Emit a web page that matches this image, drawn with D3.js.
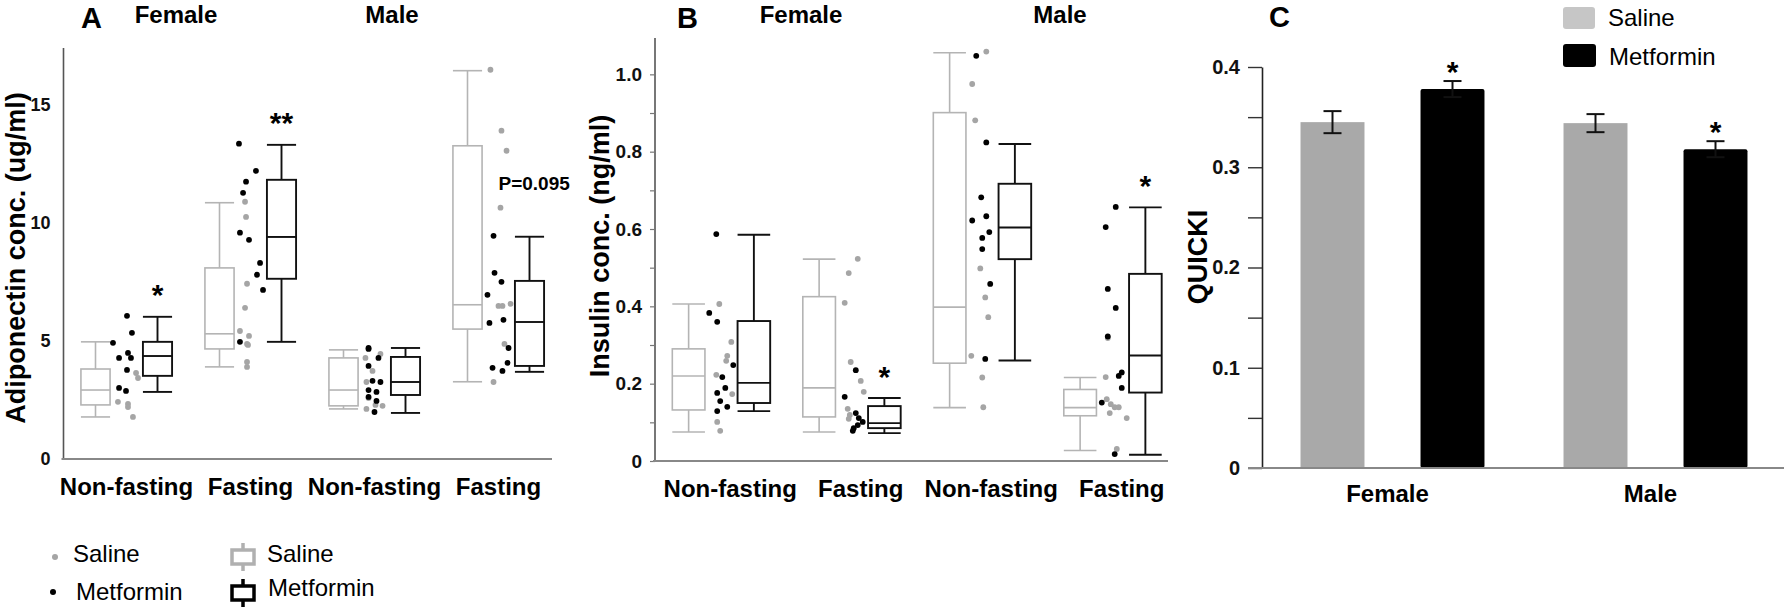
<!DOCTYPE html>
<html><head><meta charset="utf-8">
<script src="https://cdn.jsdelivr.net/npm/d3@7"></script>
<style>
body{margin:0;background:#fff;}
svg{display:block;font-family:"Liberation Sans",Arial,Helvetica,sans-serif;}
</style></head><body>
<svg id="chart" width="1784" height="608"></svg>
<script>
// ---------------- DATA ----------------
const sexes = ["Female", "Male"];
const conditions = ["Non-fasting", "Fasting", "Non-fasting", "Fasting"];
const treatments = ["Saline", "Metformin"];

// Panel A: adiponectin (ug/ml). Box stats: [low whisker, Q1, median, Q3, high whisker]
const adipoSalineBox = [[1.78,2.29,2.92,3.81,4.96],[3.90,4.66,5.30,8.09,10.85],[2.12,2.25,2.92,4.28,4.62],[3.27,5.50,6.53,13.26,16.44]];
const adipoMetforminBox = [[2.84,3.52,4.36,4.96,6.02],[4.96,7.63,9.40,11.82,13.30],[1.95,2.71,3.26,4.32,4.70],[3.69,3.94,5.80,7.54,9.41]];
const adipoSalineDots = [[3.64,3.43,2.42,2.33,2.20,1.78],[10.89,10.25,7.42,6.40,5.42,5.21,4.87,4.83,4.11,3.90],[4.28,4.45,3.73,3.26,2.58,2.29,2.25,2.12],[16.48,13.90,13.05,10.64,6.48,6.48,6.57,4.87,3.26]];
const adipoSalineJitter = [[0.77,0.93,-0.69,0.12,0.12,0.52],[-0.44,-0.36,-0.28,-0.44,-0.85,-0.12,-0.28,-0.20,-0.28,-0.28],[-0.73,0.48,-0.16,-0.65,-0.48,0.08,0.65,-0.65],[-0.65,0.24,0.65,0.16,0,0.32,0.97,0.48,-0.40]];
const adipoMetforminDots = [[4.92,6.06,5.34,4.28,4.49,4.28,3.77,3.01,2.88],[13.35,12.20,11.74,11.27,9.58,9.28,8.30,7.80,7.16,4.96],[4.70,4.66,4.28,3.94,3.31,3.26,2.92,2.84,2.63,2.46,1.99],[9.45,7.88,7.50,6.95,5.76,5.89,4.70,4.07,3.86,3.73]];
const adipoMetforminJitter = [[-1.09,0.04,0.44,-0.60,0.12,0.36,0.04,-0.60,-0.04],[-0.93,0.44,-0.36,-0.60,-0.85,-0.12,0.77,0.52,1.01,-0.85],[-0.48,-0.48,0.32,-0.48,-0.16,0.48,-0.48,0.16,-0.48,0.16,0],[-0.40,-0.32,0.24,-0.89,-0.73,0.40,0.81,0.73,-0.48,0.32]];
const adipoTicks = [0, 5, 10, 15];
const adipoStars = [{cat:0, text:"*"}, {cat:1, text:"**"}];
const adipoNotes = [{cat:3, text:"P=0.095", value:11.65}];

// Panel B: insulin (ng/ml)
const insulinSalineBox = [[0.075,0.132,0.220,0.290,0.406],[0.075,0.114,0.189,0.425,0.522],[0.138,0.253,0.398,0.901,1.056],[0.027,0.117,0.138,0.185,0.216]];
const insulinMetforminBox = [[0.129,0.150,0.202,0.362,0.585],[0.072,0.085,0.098,0.142,0.163],[0.260,0.522,0.604,0.717,0.820],[0.016,0.177,0.273,0.484,0.656]];
const insulinSalineDots = [[0.406,0.308,0.272,0.259,0.223,0.173,0.101,0.078],[0.486,0.523,0.409,0.256,0.207,0.179,0.135,0.119,0.109],[1.059,0.975,0.881,0.498,0.423,0.372,0.272,0.216,0.139],[0.217,0.160,0.147,0.139,0.139,0.124,0.111,0.031,0.318]];
const insulinSalineJitter = [[-0.15,0.77,0.46,0.38,-0.38,0.84,-0.31,-0.08],[-0.23,0.46,-0.54,-0.08,0.69,0.92,-0.31,-0.15,-0.23],[0.31,-0.77,-0.54,-0.15,0.23,0.46,-0.84,0,0.08],[-0.54,-0.46,-0.15,0.15,0.46,-0.23,1.07,0.31,-0.38]];
const insulinMetforminDots = [[0.383,0.587,0.360,0.248,0.217,0.189,0.176,0.155,0.140,0.129],[0.235,0.166,0.124,0.111,0.101,0.093,0.085,0.078],[1.048,0.824,0.682,0.622,0.633,0.592,0.577,0.548,0.458,0.264],[0.657,0.605,0.445,0.396,0.322,0.229,0.220,0.189,0.151,0.018]];
const insulinMetforminJitter = [[-0.92,-0.38,-0.31,0.92,0.08,0.31,-0.31,-0.08,0.46,-0.31],[0.31,-0.54,0.31,0.54,0.84,0.46,0.15,0.08],[-0.46,0.31,-0.08,-0.77,0.31,0.54,0,0,0.61,0.23],[0.23,-0.54,-0.38,0.23,-0.38,0.69,0.46,0.69,-0.84,0.15]];
const insulinTicks = [0, 0.1, 0.2, 0.3, 0.4, 0.5, 0.6, 0.7, 0.8, 0.9, 1.0];
const insulinStars = [{cat:1, text:"*"}, {cat:3, text:"*"}];

// Panel C: QUICKI mean and SEM
const quickiSaline = [0.345, 0.344];
const quickiSalineSem = [0.011, 0.009];
const quickiMetformin = [0.378, 0.318];
const quickiMetforminSem = [0.008, 0.008];
const quickiTicks = [0, 0.05, 0.1, 0.15, 0.2, 0.25, 0.3, 0.35, 0.4];
const quickiStars = ["*", "*"]; // on metformin bars

// ---------------- STYLE ----------------
const GRAY_BOX = "#b4b4b4", GRAY_DOT = "#a5a5a5", BLACK = "#000";
const svg = d3.select("#chart");

function boxPanel(o) {
  const g = svg.append("g");
  const x = d3.scaleBand().domain(d3.range(4)).range(o.xRange);
  const y = d3.scaleLinear().domain(o.yDomain).range(o.yRange);
  const bw = x.bandwidth();
  const cx = i => x(i) + bw / 2;

  const ax = d3.axisLeft(y).tickValues(o.ticks).tickSize(o.tickSize).tickSizeOuter(0)
    .tickPadding(o.tickPad).tickFormat(o.fmt);
  const ag = g.append("g").attr("transform", `translate(${o.xRange[0] - 1},0)`).call(ax);
  ag.select(".domain").attr("stroke", "#555").attr("stroke-width", 1.6)
    .attr("d", `M0,${o.yRange[1]}V${o.yRange[0]}`);
  ag.selectAll(".tick line").attr("stroke", "#777").attr("stroke-width", 1.2);
  ag.selectAll(".tick text").attr("font-size", o.tickFont).attr("font-weight", "bold").attr("fill", "#111")
    .attr("font-family", '"Liberation Sans",Arial,sans-serif');

  g.append("line").attr("x1", o.xRange[0] - 3).attr("x2", o.xAxisEnd)
    .attr("y1", y(0)).attr("y2", y(0)).attr("stroke", "#888").attr("stroke-width", 2);

  conditions.forEach((c, i) => {
    g.append("text").attr("x", cx(i) + o.labelShift).attr("y", o.labelY)
      .attr("text-anchor", "middle").attr("font-size", 24).attr("font-weight", "bold").text(c);
  });

  const boxW = bw * o.boxFrac, off = bw * 0.25;
  function drawBox(stats, center, color, sw) {
    const [lo, q1, med, q3, hi] = stats;
    const bg = g.append("g").attr("stroke", color).attr("stroke-width", sw).attr("fill", "none");
    bg.append("line").attr("x1", center).attr("x2", center).attr("y1", y(hi)).attr("y2", y(q3));
    bg.append("line").attr("x1", center).attr("x2", center).attr("y1", y(q1)).attr("y2", y(lo));
    bg.append("line").attr("x1", center - boxW / 2).attr("x2", center + boxW / 2).attr("y1", y(hi)).attr("y2", y(hi));
    bg.append("line").attr("x1", center - boxW / 2).attr("x2", center + boxW / 2).attr("y1", y(lo)).attr("y2", y(lo));
    bg.append("rect").attr("x", center - boxW / 2).attr("width", boxW).attr("y", y(q3)).attr("height", y(q1) - y(q3)).attr("fill", "#fff");
    bg.append("line").attr("x1", center - boxW / 2).attr("x2", center + boxW / 2).attr("y1", y(med)).attr("y2", y(med));
  }
  d3.range(4).forEach(i => {
    drawBox(o.salBox[i], cx(i) - off, GRAY_BOX, 1.6);
    drawBox(o.metBox[i], cx(i) + off, "#111", 1.9);
  });
  const unit = bw * 0.1;
  d3.range(4).forEach(i => {
    g.selectAll(null).data(o.salDots[i]).join("circle")
      .attr("cx", (d, k) => cx(i) + o.salJit[i][k] * unit).attr("cy", d => y(d)).attr("r", 2.9).attr("fill", GRAY_DOT);
    g.selectAll(null).data(o.metDots[i]).join("circle")
      .attr("cx", (d, k) => cx(i) + o.metJit[i][k] * unit).attr("cy", d => y(d)).attr("r", 2.9).attr("fill", BLACK);
  });
  o.stars.forEach(s => {
    g.append("text").attr("x", cx(s.cat) + off).attr("y", y(o.metBox[s.cat][4]) - o.starGap + 15)
      .attr("text-anchor", "middle").attr("font-size", 30).attr("font-weight", "bold").text(s.text);
  });
  (o.notes || []).forEach(n => {
    g.append("text").attr("x", cx(n.cat)).attr("y", y(n.value)).attr("dy", "0.35em")
      .attr("font-size", 19).attr("font-weight", "bold").text(n.text);
  });
  g.append("text").attr("transform", `translate(${o.yLabelX},${o.yLabelY}) rotate(-90)`)
    .attr("text-anchor", "middle").attr("font-size", o.yLabelFont).attr("font-weight", "bold").text(o.yLabel);
  g.append("text").attr("x", o.letterX).attr("y", 28).attr("font-size", 29).attr("font-weight", "bold").text(o.letter);
  sexes.forEach((s, j) => {
    g.append("text").attr("x", o.sexX[j]).attr("y", 23).attr("text-anchor", "middle")
      .attr("font-size", 24).attr("font-weight", "bold").text(s);
  });
  return {x, y};
}

// Panel A
boxPanel({
  xRange: [64.5, 560.5], xAxisEnd: 552, yDomain: [0, 17.4], yRange: [459, 48],
  ticks: adipoTicks, tickSize: 0, tickPad: 13, tickFont: 18, fmt: d3.format("d"),
  labelShift: 0, labelY: 495, boxFrac: 0.235,
  salBox: adipoSalineBox, metBox: adipoMetforminBox,
  salDots: adipoSalineDots, salJit: adipoSalineJitter, metDots: adipoMetforminDots, metJit: adipoMetforminJitter,
  stars: adipoStars, notes: adipoNotes, starGap: 27,
  yLabel: "Adiponectin conc. (ug/ml)", yLabelX: 25, yLabelY: 258, yLabelFont: 27,
  letter: "A", letterX: 81, sexX: [176, 392]
});

// Panel B
boxPanel({
  xRange: [656, 1178], xAxisEnd: 1168, yDomain: [0, 1.094], yRange: [461, 38],
  ticks: insulinTicks, tickSize: 5, tickPad: 8, tickFont: 19,
  fmt: d => (Math.round(d * 10) % 2 === 0) ? (d === 0 ? "0" : d3.format(".1f")(d)) : "",
  labelShift: 9, labelY: 497, boxFrac: 0.25,
  salBox: insulinSalineBox, metBox: insulinMetforminBox,
  salDots: insulinSalineDots, salJit: insulinSalineJitter, metDots: insulinMetforminDots, metJit: insulinMetforminJitter,
  stars: insulinStars, starGap: 26,
  yLabel: "Insulin conc. (ng/ml)", yLabelX: 609, yLabelY: 246, yLabelFont: 27,
  letter: "B", letterX: 677, sexX: [801, 1060]
});

// Panel C
(function () {
  const g = svg.append("g");
  const x0 = d3.scaleBand().domain(sexes).range([1261, 1787]);
  const x1 = d3.scaleBand().domain(treatments).range([-120, 120]).paddingInner(0.467).paddingOuter(0.2335);
  const y = d3.scaleLinear().domain([0, 0.4]).range([468, 67]);
  const ax = d3.axisLeft(y).tickValues(quickiTicks).tickSize(14).tickSizeOuter(0).tickPadding(8)
    .tickFormat(d => (Math.round(d * 100) % 10 === 0) ? (d === 0 ? "0" : d3.format(".1f")(d)) : "");
  const ag = g.append("g").attr("transform", "translate(1262,0)").call(ax);
  ag.select(".domain").attr("stroke", "#222").attr("stroke-width", 1.6);
  ag.selectAll(".tick line").attr("stroke", "#333").attr("stroke-width", 1.4);
  ag.selectAll(".tick text").attr("font-size", 20).attr("font-weight", "bold").attr("fill", "#111")
    .attr("font-family", '"Liberation Sans",Arial,sans-serif');

  const series = [
    {t: "Saline", mean: quickiSaline, sem: quickiSalineSem, fill: "#a9a9a9"},
    {t: "Metformin", mean: quickiMetformin, sem: quickiMetforminSem, fill: "#000"}
  ];
  sexes.forEach((s, i) => {
    const c = x0(s) + x0.bandwidth() / 2;
    series.forEach(se => {
      const bx = c + x1(se.t), w = x1.bandwidth();
      g.append("rect").attr("x", bx).attr("width", w).attr("y", y(se.mean[i])).attr("height", y(0) - y(se.mean[i]))
        .attr("fill", se.fill).attr("rx", se.t === "Metformin" ? 2 : 0);
      const mx = bx + w / 2, hi = y(se.mean[i] + se.sem[i]), lo = y(se.mean[i] - se.sem[i]);
      const eg = g.append("g").attr("stroke", "#111").attr("stroke-width", 2);
      eg.append("line").attr("x1", mx).attr("x2", mx).attr("y1", hi).attr("y2", lo);
      eg.append("line").attr("x1", mx - 9).attr("x2", mx + 9).attr("y1", hi).attr("y2", hi);
      eg.append("line").attr("x1", mx - 9).attr("x2", mx + 9).attr("y1", lo).attr("y2", lo);
      if (se.t === "Metformin") {
        g.append("text").attr("x", mx).attr("y", hi - 14 + 15).attr("text-anchor", "middle")
          .attr("font-size", 30).attr("font-weight", "bold").text(quickiStars[i]);
      }
    });
    g.append("text").attr("x", c - 5).attr("y", 502).attr("text-anchor", "middle")
      .attr("font-size", 24).attr("font-weight", "bold").text(s);
  });
  g.append("line").attr("x1", 1248).attr("x2", 1784).attr("y1", y(0)).attr("y2", y(0))
    .attr("stroke", "#888").attr("stroke-width", 2);
  g.append("text").attr("transform", "translate(1207,257) rotate(-90)").attr("text-anchor", "middle")
    .attr("font-size", 27).attr("font-weight", "bold").text("QUICKI");
  g.append("text").attr("x", 1269).attr("y", 27).attr("font-size", 29).attr("font-weight", "bold").text("C");
  const lg = g.append("g");
  lg.append("rect").attr("x", 1563).attr("y", 7).attr("width", 32).attr("height", 22).attr("rx", 3).attr("fill", "#c6c6c6");
  lg.append("rect").attr("x", 1563).attr("y", 44).attr("width", 33).attr("height", 23).attr("rx", 3).attr("fill", "#000");
  lg.append("text").attr("x", 1608).attr("y", 26).attr("font-size", 24).text("Saline");
  lg.append("text").attr("x", 1609).attr("y", 65).attr("font-size", 24).text("Metformin");
})();

// Bottom legend for panels A/B
(function () {
  const g = svg.append("g");
  g.append("circle").attr("cx", 55).attr("cy", 557).attr("r", 3).attr("fill", GRAY_DOT);
  g.append("circle").attr("cx", 53).attr("cy", 592).attr("r", 3).attr("fill", BLACK);
  g.append("text").attr("x", 73).attr("y", 562).attr("font-size", 24).text("Saline");
  g.append("text").attr("x", 76).attr("y", 600).attr("font-size", 24).text("Metformin");
  function icon(yTop, color) {
    const ig = g.append("g").attr("stroke", color).attr("stroke-width", 3.5).attr("fill", "none");
    ig.append("line").attr("x1", 243).attr("x2", 243).attr("y1", yTop).attr("y2", yTop + 28);
    ig.append("rect").attr("x", 232).attr("y", yTop + 7).attr("width", 22).attr("height", 14).attr("fill", "#fff");
  }
  icon(543, "#b0b0b0");
  icon(579, "#000");
  g.append("text").attr("x", 267).attr("y", 562).attr("font-size", 24).text("Saline");
  g.append("text").attr("x", 268).attr("y", 596).attr("font-size", 24).text("Metformin");
})();
</script>
</body></html>
